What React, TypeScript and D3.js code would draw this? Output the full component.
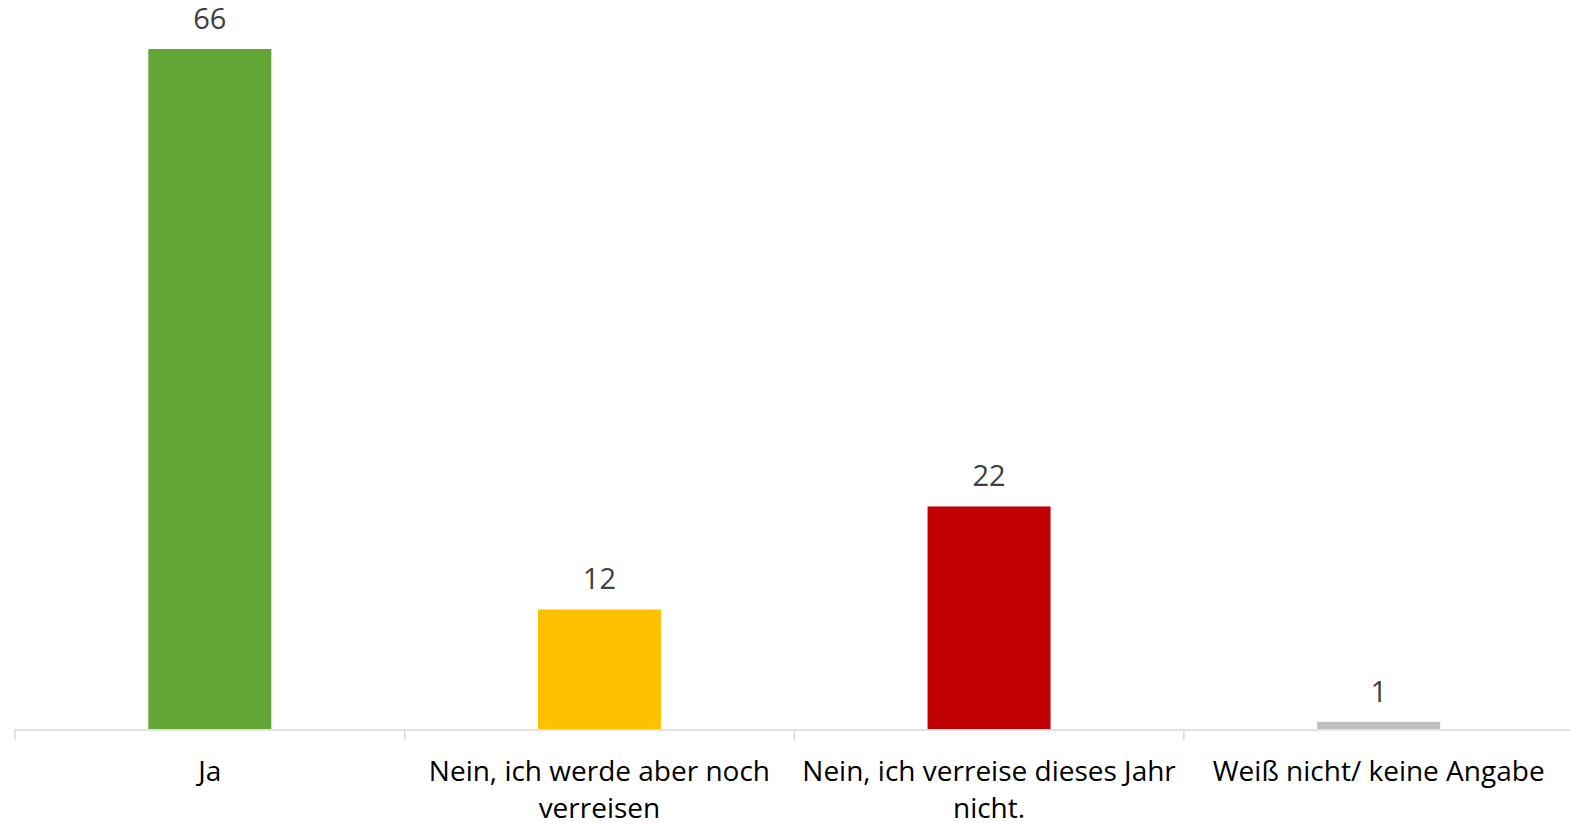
import React from "react";
import * as d3 from "d3";

const categories: string[][] = [
  ["Ja"],
  ["Nein, ich werde aber noch", "verreisen"],
  ["Nein, ich verreise dieses Jahr", "nicht."],
  ["Weiß nicht/ keine Angabe"],
];
const values: number[] = [66, 11.6, 21.6, 0.7];
const colors: string[] = ["#64a537", "#ffc000", "#c00000", "#bfbfbf"];

const W = 1570;
const H = 826;
const margin = { left: 15, right: -3.5, top: 49, bottom: 97 };
const FONT = "'Open Sans', sans-serif";

export default function App() {
  const x = d3
    .scaleBand<number>()
    .domain(values.map((_, i) => i))
    .range([margin.left, W - margin.right])
    .paddingInner(0)
    .paddingOuter(0);
  const y = d3
    .scaleLinear()
    .domain([0, 66])
    .range([H - margin.bottom, margin.top]);
  const barW = 123;
  const base = y(0);
  const ticks = d3.range(values.length + 1).map((i) => margin.left + i * x.bandwidth());
  const fmt = d3.format(".0f");

  return (
    <svg
      width={W}
      height={H}
      style={{ position: "absolute", left: 0, top: 0, background: "#fff" }}
    >
      {values.map((v, i) => {
        const cx = (x(i) as number) + x.bandwidth() / 2;
        return (
          <g key={i}>
            <rect x={cx - barW / 2} y={y(v)} width={barW} height={base - y(v)} fill={colors[i]} />
            <text
              x={cx}
              y={y(v) - 20}
              textAnchor="middle"
              fontFamily={FONT}
              fontSize={29}
              fill="#404040"
            >
              {fmt(v)}
            </text>
          </g>
        );
      })}
      <line x1={margin.left} x2={W} y1={base + 1} y2={base + 1} stroke="#d9d9d9" strokeWidth={1.5} />
      {ticks.map((t, i) => (
        <line key={i} x1={t} x2={t} y1={base} y2={base + 11} stroke="#d9d9d9" strokeWidth={1.5} />
      ))}
      {categories.map((lines, i) => {
        const cx = (x(i) as number) + x.bandwidth() / 2;
        return (
          <text key={i} textAnchor="middle" fontFamily={FONT} fontSize={28} fill="#000">
            {lines.map((l, j) => (
              <tspan key={j} x={cx} y={781 + j * 37}>
                {l}
              </tspan>
            ))}
          </text>
        );
      })}
    </svg>
  );
}
